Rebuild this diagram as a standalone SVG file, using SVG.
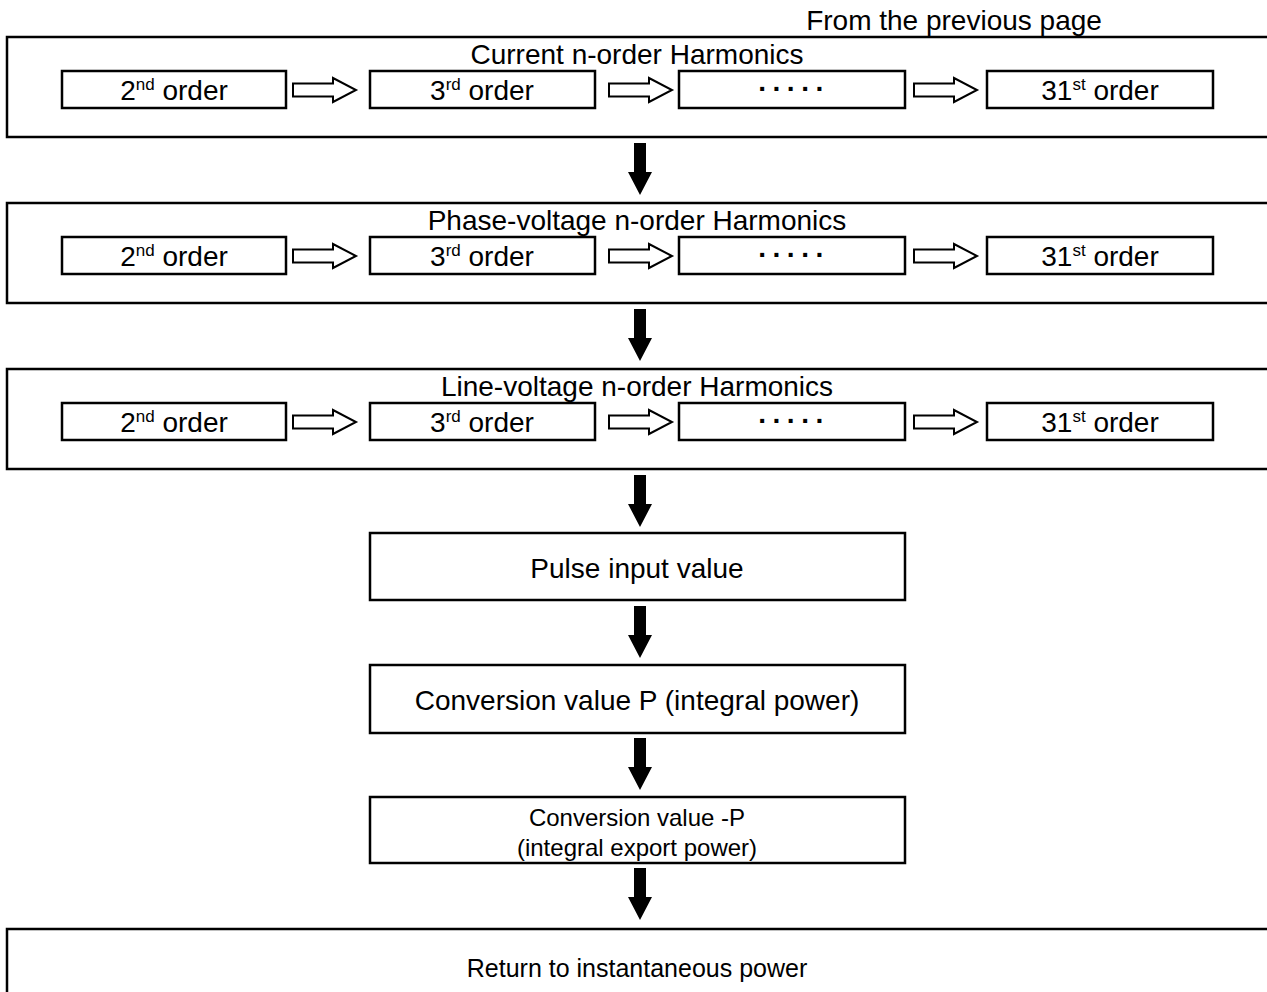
<svg xmlns="http://www.w3.org/2000/svg" width="1267" height="992" viewBox="0 0 1267 992">
<style>
.box{fill:#fff;stroke:#000;stroke-width:2.5}
.t{font-family:"Liberation Sans",Arial,sans-serif;font-size:28px;fill:#000;text-anchor:middle}
.s{font-size:24px}
.sup{font-size:17px}
.dots{font-family:"Liberation Sans",Arial,sans-serif;font-size:28px;font-weight:bold;fill:#000;text-anchor:middle;letter-spacing:5px}
.ha{fill:#fff;stroke:#000;stroke-width:2}
.da{fill:#000}
</style>
<defs>
<polygon id="harrow" class="ha" points="0,-6.5 40,-6.5 40,-12 63,0 40,12 40,6.5 0,6.5"/>
<polygon id="darrow" class="da" points="-6,0 6,0 6,29 12,29 0,52 -12,29 -6,29"/>
</defs>
<text class="t" x="954" y="30">From the previous page</text>

<g id="current">
<rect class="box" x="7" y="37" width="1280" height="100"/>
<text class="t" x="637" y="64">Current n-order Harmonics</text>
<rect class="box" x="62" y="71" width="224" height="37"/>
<text class="t" x="174" y="100">2<tspan class="sup" dy="-10">nd</tspan><tspan dy="10"> order</tspan></text>
<rect class="box" x="370" y="71" width="225" height="37"/>
<text class="t" x="482" y="100">3<tspan class="sup" dy="-10">rd</tspan><tspan dy="10"> order</tspan></text>
<rect class="box" x="679" y="71" width="226" height="37"/>
<text class="dots" x="794" y="98">·····</text>
<rect class="box" x="987" y="71" width="226" height="37"/>
<text class="t" x="1100" y="100">31<tspan class="sup" dy="-10">st</tspan><tspan dy="10"> order</tspan></text>
</g>

<g id="phase">
<rect class="box" x="7" y="203" width="1280" height="100"/>
<text class="t" x="637" y="230">Phase-voltage n-order Harmonics</text>
<rect class="box" x="62" y="237" width="224" height="37"/>
<text class="t" x="174" y="266">2<tspan class="sup" dy="-10">nd</tspan><tspan dy="10"> order</tspan></text>
<rect class="box" x="370" y="237" width="225" height="37"/>
<text class="t" x="482" y="266">3<tspan class="sup" dy="-10">rd</tspan><tspan dy="10"> order</tspan></text>
<rect class="box" x="679" y="237" width="226" height="37"/>
<text class="dots" x="794" y="264">·····</text>
<rect class="box" x="987" y="237" width="226" height="37"/>
<text class="t" x="1100" y="266">31<tspan class="sup" dy="-10">st</tspan><tspan dy="10"> order</tspan></text>
</g>

<g id="line">
<rect class="box" x="7" y="369" width="1280" height="100"/>
<text class="t" x="637" y="396">Line-voltage n-order Harmonics</text>
<rect class="box" x="62" y="403" width="224" height="37"/>
<text class="t" x="174" y="432">2<tspan class="sup" dy="-10">nd</tspan><tspan dy="10"> order</tspan></text>
<rect class="box" x="370" y="403" width="225" height="37"/>
<text class="t" x="482" y="432">3<tspan class="sup" dy="-10">rd</tspan><tspan dy="10"> order</tspan></text>
<rect class="box" x="679" y="403" width="226" height="37"/>
<text class="dots" x="794" y="430">·····</text>
<rect class="box" x="987" y="403" width="226" height="37"/>
<text class="t" x="1100" y="432">31<tspan class="sup" dy="-10">st</tspan><tspan dy="10"> order</tspan></text>
</g>

<g id="pulse">
<rect class="box" x="370" y="533" width="535" height="67"/>
<text class="t" x="637" y="578">Pulse input value</text>
</g>
<g id="convP">
<rect class="box" x="370" y="665" width="535" height="68"/>
<text class="t" x="637" y="710">Conversion value P (integral power)</text>
</g>
<g id="convNegP">
<rect class="box" x="370" y="797" width="535" height="66"/>
<text class="t s" x="637" y="826">Conversion value -P</text>
<text class="t s" x="637" y="856">(integral export power)</text>
</g>
<g id="return">
<rect class="box" x="7" y="929" width="1280" height="100"/>
<text class="t" x="637" y="977" style="font-size:25px">Return to instantaneous power</text>
</g>

<g id="connectors">
<use href="#harrow" x="293" y="90"/>
<use href="#harrow" x="609" y="90"/>
<use href="#harrow" x="914" y="90"/>
<use href="#harrow" x="293" y="256"/>
<use href="#harrow" x="609" y="256"/>
<use href="#harrow" x="914" y="256"/>
<use href="#harrow" x="293" y="422"/>
<use href="#harrow" x="609" y="422"/>
<use href="#harrow" x="914" y="422"/>
<use href="#darrow" x="640" y="143"/>
<use href="#darrow" x="640" y="309"/>
<use href="#darrow" x="640" y="475"/>
<use href="#darrow" x="640" y="606"/>
<use href="#darrow" x="640" y="738"/>
<use href="#darrow" x="640" y="868"/>
</g>
</svg>
